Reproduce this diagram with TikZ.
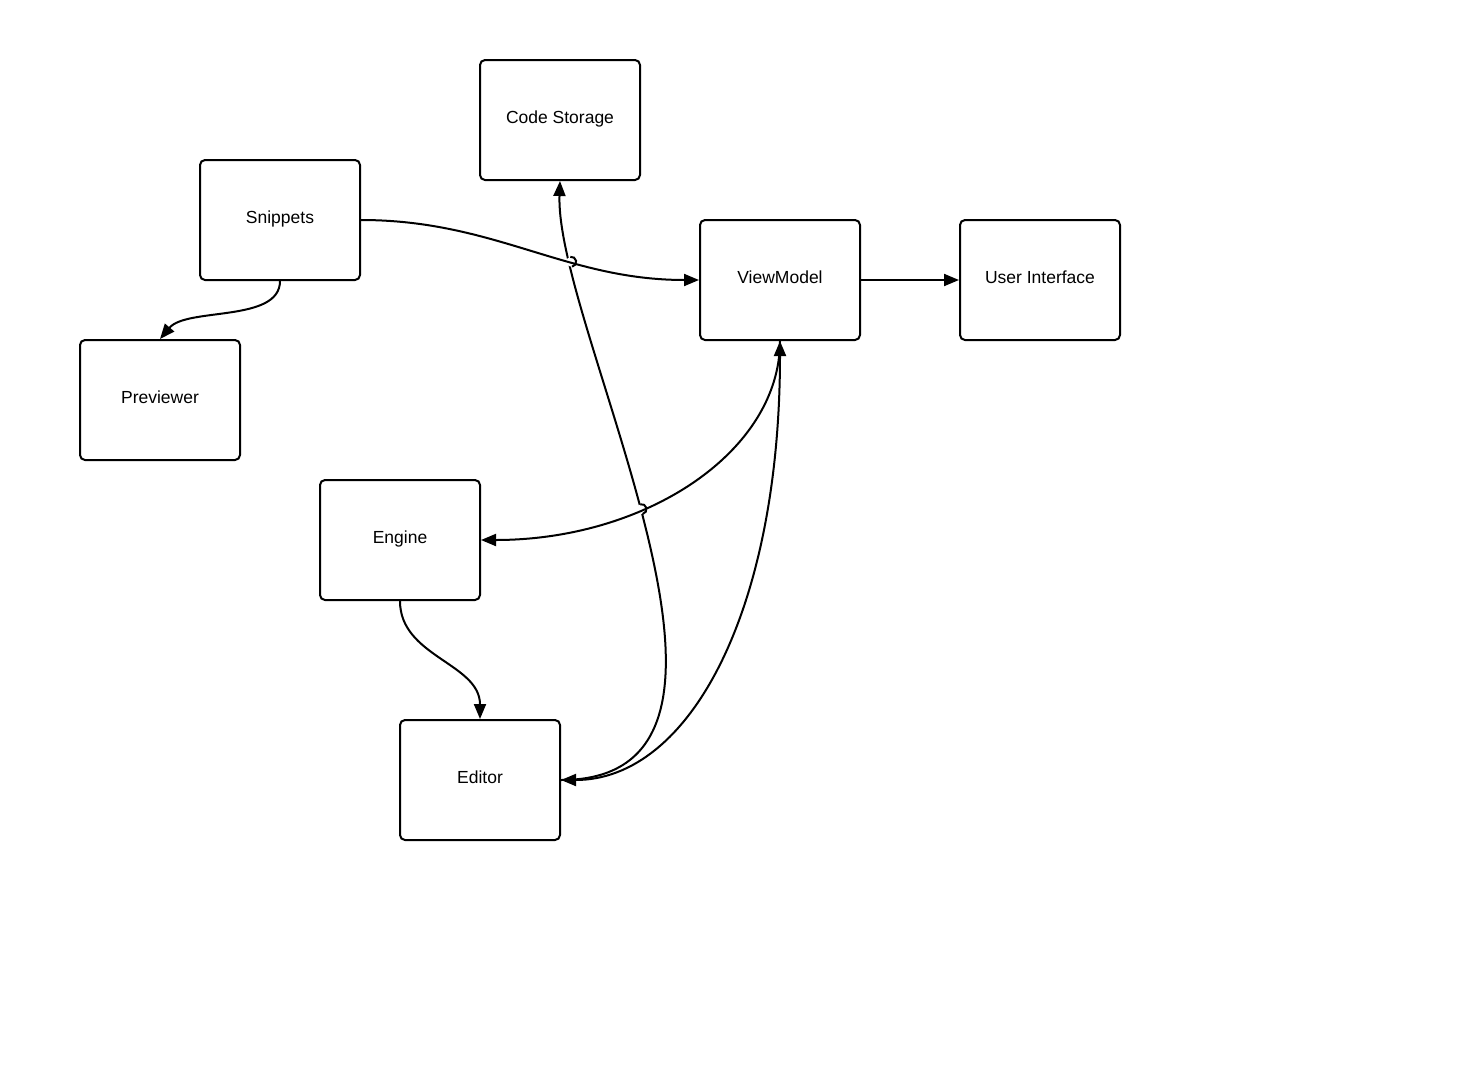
\documentclass[tikz,border=0pt]{standalone}
\usepackage{fontspec}
\setmainfont{Liberation Sans}
\usetikzlibrary{arrows.meta,intersections}

\begin{document}
\begin{tikzpicture}[x=1pt,y=1pt,font=\fontsize{17.5}{21}\selectfont,
  >={Triangle[length=15pt,width=12pt]},
  box/.style={draw,line width=2pt,rounded corners=5pt,
              minimum width=160pt,minimum height=120pt,
              text height=12pt,text depth=6pt},
  link/.style={line width=2pt}]
 \useasboundingbox (0,0) rectangle (1481,-1066);
 \node[box] (store)   at (560,-120) {Code Storage};
 \node[box] (snip)    at (280,-220) {Snippets};
 \node[box] (vm)      at (780,-280) {ViewModel};
 \node[box] (ui)      at (1040,-280) {User Interface};
 \node[box] (preview) at (160,-400) {Previewer};
 \node[box] (engine)  at (400,-540) {Engine};
 \node[box] (editor)  at (480,-780) {Editor};
 \path[name path=snipline] (snip.east) to[out=0,in=180] (vm.west);
 \path[name path=engline] (vm.south)
      .. controls +(0,-110) and +(166,0) .. (engine.east);
 \draw[link,->,name path=storeline] (editor.east)
      .. controls (800,-780) and (555,-330) .. (store.south);
 \fill[white,name intersections={of=storeline and snipline,name=hopa}]
      (hopa-1) circle[radius=5];
 \fill[white,name intersections={of=storeline and engline,name=hopb}]
      (hopb-1) circle[radius=5];
 \draw[link,->] (snip.east) to[out=0,in=180] (vm.west);
 \draw[link,->] (vm.south)
      .. controls +(0,-110) and +(166,0) .. (engine.east);
 \draw[link] (hopa-1) ++(100:5) arc[start angle=100,end angle=-80,radius=5];
 \draw[link] (hopb-1) ++(104:5) arc[start angle=104,end angle=-76,radius=5];
 \draw[link,->] (snip.south) to[out=-90,in=50,looseness=.8] (preview.north);
 \draw[link,->] (vm.east) -- (ui.west);
 \draw[link,<->] (vm.south)
      .. controls (780,-610) and (690,-780) .. (editor.east);
 \draw[link,->] (engine.south) to[out=-90,in=90] (editor.north);
\end{tikzpicture}
\end{document}
